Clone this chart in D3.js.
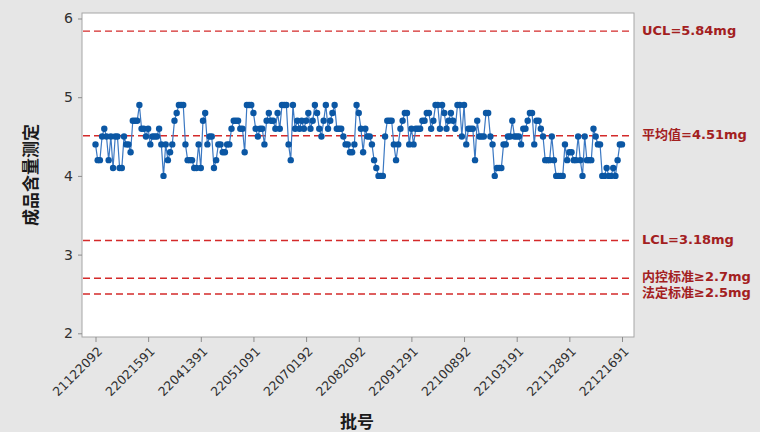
<!DOCTYPE html>
<html>
<head>
<meta charset="utf-8">
<script src="https://cdn.jsdelivr.net/npm/d3@7/dist/d3.min.js"></script>
<style>
  html, body { margin: 0; padding: 0; background: #e6e6e6; }
  svg { display: block; }
</style>
</head>
<body>
<svg id="chart" width="760" height="432"></svg>
<script>
// Assay results per batch (mg), in production order
const values = [
  4.4, 4.2, 4.2, 4.5, 4.6, 4.5, 4.2, 4.5, 4.1, 4.5,
  4.5, 4.1, 4.1, 4.5, 4.4, 4.4, 4.3, 4.7, 4.7, 4.7,
  4.9, 4.6, 4.6, 4.5, 4.6, 4.4, 4.5, 4.5, 4.5, 4.6,
  4.4, 4.0, 4.4, 4.2, 4.3, 4.4, 4.7, 4.8, 4.9, 4.9,
  4.9, 4.4, 4.2, 4.2, 4.2, 4.1, 4.1, 4.4, 4.1, 4.7,
  4.8, 4.4, 4.5, 4.5, 4.1, 4.2, 4.4, 4.4, 4.3, 4.3,
  4.4, 4.4, 4.6, 4.7, 4.7, 4.7, 4.6, 4.6, 4.3, 4.9,
  4.9, 4.9, 4.8, 4.6, 4.5, 4.6, 4.6, 4.4, 4.7, 4.8,
  4.7, 4.7, 4.6, 4.8, 4.6, 4.9, 4.9, 4.9, 4.4, 4.2,
  4.9, 4.6, 4.7, 4.6, 4.7, 4.6, 4.7, 4.8, 4.6, 4.7,
  4.9, 4.8, 4.6, 4.5, 4.7, 4.9, 4.6, 4.7, 4.8, 4.9,
  4.6, 4.6, 4.6, 4.5, 4.4, 4.4, 4.3, 4.3, 4.4, 4.9,
  4.8, 4.6, 4.3, 4.6, 4.5, 4.5, 4.4, 4.2, 4.1, 4.0,
  4.0, 4.0, 4.5, 4.7, 4.7, 4.7, 4.4, 4.2, 4.4, 4.6,
  4.7, 4.8, 4.8, 4.4, 4.6, 4.4, 4.6, 4.6, 4.6, 4.7,
  4.7, 4.8, 4.8, 4.6, 4.7, 4.9, 4.9, 4.6, 4.9, 4.8,
  4.6, 4.7, 4.8, 4.7, 4.6, 4.9, 4.9, 4.5, 4.9, 4.4,
  4.6, 4.6, 4.6, 4.2, 4.7, 4.5, 4.5, 4.5, 4.8, 4.8,
  4.5, 4.4, 4.0, 4.1, 4.1, 4.1, 4.4, 4.4, 4.5, 4.5,
  4.7, 4.5, 4.5, 4.5, 4.4, 4.6, 4.6, 4.7, 4.8, 4.8,
  4.4, 4.7, 4.7, 4.6, 4.5, 4.2, 4.2, 4.2, 4.5, 4.2,
  4.0, 4.0, 4.0, 4.0, 4.4, 4.2, 4.3, 4.3, 4.2, 4.2,
  4.5, 4.2, 4.0, 4.5, 4.2, 4.2, 4.2, 4.6, 4.5, 4.4,
  4.4, 4.0, 4.0, 4.1, 4.0, 4.0, 4.1, 4.0, 4.2, 4.4,
  4.4
];

// Batch numbers shown on the x axis (every 24th batch)
const tickIndex = [0, 24, 48, 72, 96, 120, 144, 168, 192, 216, 240];
const tickLabels = [
  "21122092", "22021591", "22041391", "22051091", "22070192", "22082092",
  "22091291", "22100892", "22103191", "22112891", "22121691"
];

// Control limits and specification limits
const refValues = [5.84, 4.51, 3.18, 2.7, 2.5];
const refLabels = ["UCL=5.84mg", "平均值=4.51mg", "LCL=3.18mg", "内控标准≥2.7mg", "法定标准≥2.5mg"];
const refOffsets = [-1, -1, -1, -1.5, -1.5];

const yTicks = [2, 3, 4, 5, 6];

const svg = d3.select("#chart");
const plot = { left: 82, right: 634, top: 13, bottom: 337 };

const x = d3.scaleLinear().domain([0, values.length - 1]).range([95.5, 622]);
const y = d3.scaleLinear().domain([2, 6]).range([333.3, 18.5]);

svg.append("rect").attr("width", 760).attr("height", 432).attr("fill", "#e6e6e6");

svg.append("rect")
  .attr("x", plot.left).attr("y", plot.top)
  .attr("width", plot.right - plot.left).attr("height", plot.bottom - plot.top)
  .attr("fill", "#ffffff").attr("stroke", "#a6a6a6").attr("stroke-width", 1);

// Y axis
const yAxis = d3.axisLeft(y).tickValues(yTicks).tickFormat(d3.format("d")).tickSize(4).tickPadding(5);
const gy = svg.append("g").attr("transform", `translate(${plot.left},0)`).call(yAxis);
gy.select(".domain").remove();
gy.selectAll(".tick line").attr("stroke", "#8c8c8c");
gy.selectAll(".tick text")
  .attr("font-family", "'DejaVu Sans', sans-serif").attr("font-size", 14).attr("fill", "#303030");

// X axis with rotated batch labels
const xAxis = d3.axisBottom(x).tickValues(tickIndex)
  .tickFormat((d, i) => tickLabels[i]).tickSize(5).tickPadding(3);
const gx = svg.append("g").attr("transform", `translate(0,${plot.bottom})`).call(xAxis);
gx.select(".domain").remove();
gx.selectAll(".tick line").attr("stroke", "#8c8c8c");
gx.selectAll(".tick text")
  .attr("font-family", "'DejaVu Sans', sans-serif").attr("font-size", 12.5).attr("fill", "#303030")
  .attr("text-anchor", "end")
  .attr("transform", "translate(4,12) rotate(-45)")
  .attr("dy", "0.35em").attr("y", 0).attr("x", 0);

// Reference lines
svg.append("g").selectAll("line").data(refValues).join("line")
  .attr("x1", plot.left + 1).attr("x2", plot.right - 1)
  .attr("y1", d => y(d)).attr("y2", d => y(d))
  .attr("stroke", "#d42a2a").attr("stroke-width", 1.4)
  .attr("stroke-dasharray", "7,4");

svg.append("g").selectAll("text").data(refValues).join("text")
  .attr("x", 642).attr("y", (d, i) => y(d) + refOffsets[i])
  .attr("dy", "0.35em")
  .attr("font-family", "'DejaVu Sans', 'Noto Sans CJK SC', sans-serif")
  .attr("font-size", 13).attr("font-weight", "bold").attr("fill", "#a3201f")
  .text((d, i) => refLabels[i]);

// Data series
const line = d3.line().x((d, i) => x(i)).y(d => y(d));
svg.append("path").datum(values)
  .attr("d", line).attr("fill", "none")
  .attr("stroke", "#3b78c2").attr("stroke-width", 1.2);

svg.append("g").selectAll("circle").data(values).join("circle")
  .attr("cx", (d, i) => x(i)).attr("cy", d => y(d)).attr("r", 3.2)
  .attr("fill", "#0b57a4");

// Axis titles
svg.append("text")
  .attr("x", 357).attr("y", 428).attr("text-anchor", "middle")
  .attr("font-family", "'Noto Sans CJK SC', sans-serif")
  .attr("font-size", 17).attr("font-weight", "bold").attr("fill", "#1a1a1a")
  .text("批号");

svg.append("text")
  .attr("transform", "translate(31,175) rotate(-90)")
  .attr("text-anchor", "middle").attr("dy", "0.35em")
  .attr("font-family", "'Noto Sans CJK SC', sans-serif")
  .attr("font-size", 17).attr("font-weight", "bold").attr("fill", "#1a1a1a")
  .text("成品含量测定");
</script>
</body>
</html>
